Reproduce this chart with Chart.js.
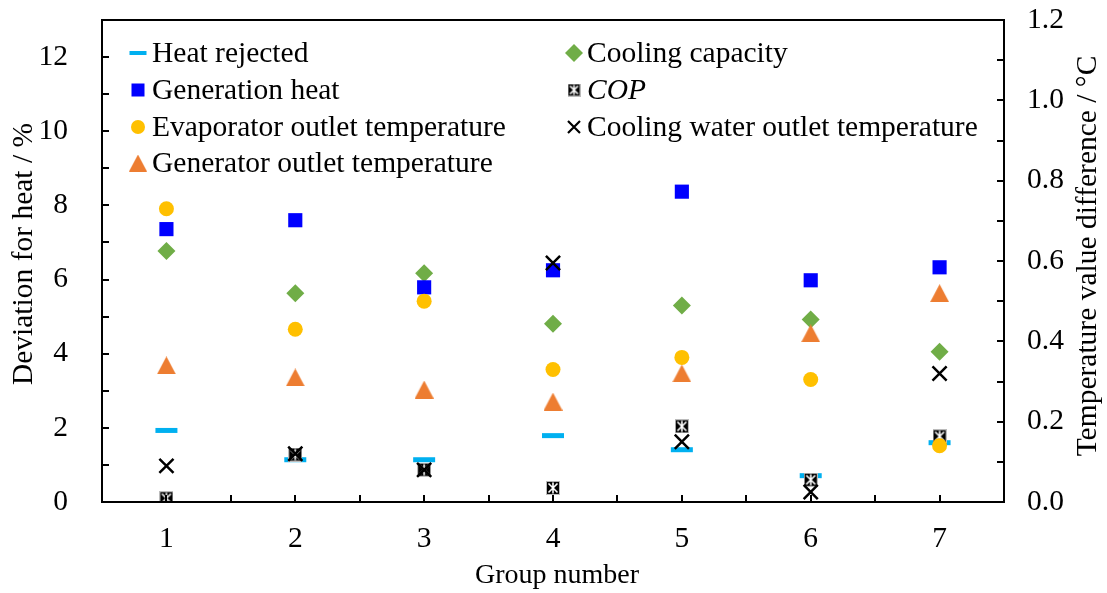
<!DOCTYPE html>
<html><head><meta charset="utf-8">
<script src="https://cdn.jsdelivr.net/npm/chart.js@4/dist/chart.umd.min.js"></script>
<style>html,body{margin:0;padding:0;background:#fff;} #wrap{width:1107px;height:593px;position:relative;}</style>
</head><body><div id="wrap"><canvas id="c" width="1107" height="593"></canvas></div>
<script>
// ---- data ----
const groups = ['1','2','3','4','5','6','7'];
// left axis (Deviation for heat / %)
const heatRejected    = [1.93, 1.14, 1.14, 1.79, 1.41, 0.71, 1.60];
const generationHeat  = [7.36, 7.60, 5.79, 6.25, 8.37, 5.98, 6.33];
const coolingCapacity = [6.77, 5.63, 6.17, 4.81, 5.30, 4.92, 4.05];
const cop             = [0.10, 1.28, 0.87, 0.38, 2.04, 0.60, 1.77];
// right axis (Temperature value difference / °C)
const evaporatorOut   = [0.73, 0.43, 0.50, 0.33, 0.36, 0.305, 0.14];
const generatorOut    = [0.34, 0.31, 0.28, 0.25, 0.32, 0.42, 0.52];
const coolingWaterOut = [0.09, 0.12, 0.08, 0.595, 0.15, 0.025, 0.32];
const leftTicks  = [0, 2, 4, 6, 8, 10, 12];
const rightTicks = [0, 0.2, 0.4, 0.6, 0.8, 1.0, 1.2];
const leftMax = 13, rightMax = 1.2;

const FONT = "'Liberation Serif', 'Times New Roman', serif";
const FS = 29.5;

function makeCop(s){
  const c=document.createElement('canvas'); c.width=s; c.height=s;
  const g=c.getContext('2d');
  g.fillStyle='#000'; g.fillRect(0,0,s,s);
  g.strokeStyle='#fff'; g.lineWidth=1.6;
  g.beginPath();
  g.moveTo(2.5,2.5); g.lineTo(s-2.5,s-2.5);
  g.moveTo(s-2.5,2.5); g.lineTo(2.5,s-2.5);
  g.moveTo(s/2,1.5); g.lineTo(s/2,s-1.5);
  g.stroke();
  g.strokeStyle='#bbb'; g.lineWidth=1; g.strokeRect(0.5,0.5,s-1,s-1);
  return c;
}
function makeTri(w,h,color){
  const c=document.createElement('canvas'); c.width=w; c.height=h;
  const g=c.getContext('2d');
  g.fillStyle=color; g.beginPath(); g.moveTo(w/2,0); g.lineTo(w,h); g.lineTo(0,h); g.closePath(); g.fill();
  return c;
}
const copImg = makeCop(14), copImgL = makeCop(13);
const triImg = makeTri(19,18,'#ED7D31'), triImgL = makeTri(18,17,'#ED7D31');

function ds(label, data, axis, style, color, extra){
  return Object.assign({label, data, yAxisID: axis, showLine:false,
    pointStyle: style, pointBackgroundColor: color, pointBorderColor: color,
    pointBorderWidth: 0, pointHoverRadius: 0}, extra);
}

const datasets = [
  ds('Evaporator outlet temperature', evaporatorOut, 'y1', 'circle', '#FFC000', {pointRadius:7.5, order:0}),
  ds('Cooling water outlet temperature', coolingWaterOut, 'y1', 'crossRot', '#000', {pointRadius:10, pointBorderWidth:2.5, order:1}),
  ds('COP', cop, 'y', copImg, '#000', {pointRadius:7, order:2}),
  ds('Generator outlet temperature', generatorOut, 'y1', triImg, '#ED7D31', {pointRadius:9, order:3}),
  ds('Generation heat', generationHeat, 'y', 'rect', '#0000FF', {pointRadius:10, order:4}),
  ds('Cooling capacity', coolingCapacity, 'y', 'rectRot', '#70AD47', {pointRadius:9, order:5}),
  ds('Heat rejected', heatRejected, 'y', 'line', '#00B0F0', {pointRadius:11, pointBorderWidth:5, order:6}),
];

const legendRows = [
  [{t:'Heat rejected', m:'dash'}, {t:'Cooling capacity', m:'diamond'}],
  [{t:'Generation heat', m:'square'}, {t:'COP', m:'cop', italic:true}],
  [{t:'Evaporator outlet temperature', m:'circle'}, {t:'Cooling water outlet temperature', m:'cross'}],
  [{t:'Generator outlet temperature', m:'tri'}, null],
];

function drawMarker(ctx, m, x, y){
  ctx.save();
  switch(m){
    case 'dash': ctx.fillStyle='#00B0F0'; ctx.fillRect(x-8.5, y-2, 17, 4); break;
    case 'square': ctx.fillStyle='#0000FF'; ctx.fillRect(x-6.5, y-6.5, 13, 13); break;
    case 'circle': ctx.fillStyle='#FFC000'; ctx.beginPath(); ctx.arc(x,y,7,0,Math.PI*2); ctx.fill(); break;
    case 'tri': ctx.drawImage(triImgL, x-9, y-8.5); break;
    case 'diamond': ctx.fillStyle='#70AD47'; ctx.beginPath(); ctx.moveTo(x-9,y); ctx.lineTo(x,y-9); ctx.lineTo(x+9,y); ctx.lineTo(x,y+9); ctx.closePath(); ctx.fill(); break;
    case 'cop': ctx.drawImage(copImgL, x-6.5, y-6.5); break;
    case 'cross': ctx.strokeStyle='#000'; ctx.lineWidth=2.2; ctx.beginPath(); ctx.moveTo(x-6,y-6); ctx.lineTo(x+6,y+6); ctx.moveTo(x+6,y-6); ctx.lineTo(x-6,y+6); ctx.stroke(); break;
  }
  ctx.restore();
}

const decor = {
  id:'decor',
  afterDraw(chart){
    const {ctx, chartArea:a, scales} = chart;
    ctx.save();
    ctx.strokeStyle='#000';
    ctx.lineWidth=2;
    ctx.beginPath();
    const tl = 7;
    const lt = [];
    leftTicks.forEach((v,i)=>{ lt.push(v); if(i<leftTicks.length-1) lt.push((v+leftTicks[i+1])/2); });
    lt.forEach(v=>{ const y=Math.round(scales.y.getPixelForValue(v)); ctx.moveTo(a.left, y); ctx.lineTo(a.left+tl, y); });
    const rt = [];
    rightTicks.forEach((v,i)=>{ rt.push(v); if(i<rightTicks.length-1) rt.push((v+rightTicks[i+1])/2); });
    rt.forEach(v=>{ const y=Math.round(scales.y1.getPixelForValue(v)); ctx.moveTo(a.right, y); ctx.lineTo(a.right-tl, y); });
    for(let i=0;i<groups.length;i++){
      const x=Math.round(scales.x.getPixelForValue(i));
      ctx.moveTo(x, a.bottom); ctx.lineTo(x, a.bottom-tl);
      if(i<groups.length-1){
        const xb=Math.round((scales.x.getPixelForValue(i)+scales.x.getPixelForValue(i+1))/2);
        ctx.moveTo(xb, a.bottom); ctx.lineTo(xb, a.bottom-tl);
      }
    }
    ctx.stroke();
    ctx.lineWidth=2;
    ctx.strokeRect(a.left, a.top, a.right-a.left, a.bottom-a.top);
    // legend
    ctx.fillStyle='#000';
    ctx.textBaseline='middle';
    ctx.textAlign='left';
    const rowY=[53, 90, 127, 163];
    const colMarkX=[138, 574], colTextX=[152, 587];
    legendRows.forEach((row,ri)=>{
      row.forEach((it,ci)=>{
        if(!it) return;
        drawMarker(ctx, it.m, colMarkX[ci], rowY[ri]);
        ctx.font = (it.italic?'italic ':'') + FS + 'px ' + FONT;
        ctx.fillText(it.t, colTextX[ci], rowY[ri]+1);
      });
    });
    // axis titles
    ctx.textAlign='center';
    ctx.font='28px '+FONT;
    ctx.fillText('Group number', 557, 576);
    ctx.font=FS+'px '+FONT;
    ctx.save(); ctx.translate(24, 254); ctx.rotate(-Math.PI/2);
    ctx.fillText('Deviation for heat / %', 0, 0); ctx.restore();
    ctx.save(); ctx.translate(1088, 256); ctx.rotate(-Math.PI/2);
    ctx.fillText('Temperature value difference / \u00B0C', 0, 0); ctx.restore();
    ctx.restore();
  }
};

const tickFont = {family: FONT, size: FS};
function noPad(s){ s.paddingTop = 0; s.paddingBottom = 0; s.paddingLeft = 0; s.paddingRight = 0; }
new Chart(document.getElementById('c'), {
  type:'line',
  data:{ labels: groups, datasets },
  plugins:[decor],
  options:{
    responsive:false, animation:false, devicePixelRatio:1,
    layout:{padding:{top:20, left:0, right:0, bottom:0}},
    plugins:{legend:{display:false}, tooltip:{enabled:false}},
    events:[],
    scales:{
      x:{ type:'category', offset:true,
          grid:{display:false, drawTicks:false}, border:{display:false},
          ticks:{font:tickFont, color:'#000', padding:20, maxRotation:0},
          afterFit(s){ s.height = 91; noPad(s); } },
      y:{ position:'left', min:0, max:leftMax,
          grid:{display:false, drawTicks:false}, border:{display:false},
          afterBuildTicks(s){ s.ticks = leftTicks.map(v=>({value:v})); },
          ticks:{font:tickFont, color:'#000', padding:34, callback:(v)=>String(v)},
          afterFit(s){ s.width = 102; noPad(s); } },
      y1:{ position:'right', min:0, max:rightMax,
          grid:{display:false, drawTicks:false}, border:{display:false},
          afterBuildTicks(s){ s.ticks = rightTicks.map(v=>({value:v})); },
          ticks:{font:tickFont, color:'#000', padding:23, callback:(v)=>Number(v).toFixed(1)},
          afterFit(s){ s.width = 103; noPad(s); } }
    }
  }
});
</script>
</body></html>
